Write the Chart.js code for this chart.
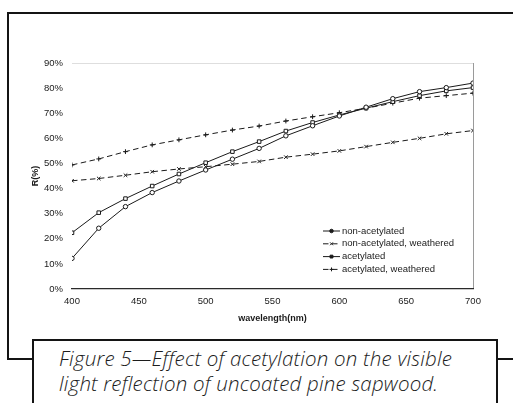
<!DOCTYPE html>
<html>
<head>
<meta charset="utf-8">
<script src="https://cdn.jsdelivr.net/npm/chart.js@4/dist/chart.umd.min.js"></script>
<style>
  html, body { margin: 0; padding: 0; background: #fff; }
  #page { position: relative; width: 513px; height: 403px; overflow: hidden; background: #fff; }
  #frame {
    position: absolute; left: 7px; top: 12px; width: 520px; height: 348px;
    box-sizing: border-box; border: 2px solid #141414; border-right: none;
  }
  #chart { position: absolute; left: 0; top: 0; }
  #caption {
    position: absolute; left: 32px; top: 339px; width: 466px; height: 90px;
    box-sizing: border-box; border: 2px solid #141414; background: #fff;
    font-family: "Open Sans", sans-serif; font-style: italic; font-weight: 300;
    font-size: 20.5px; line-height: 25px; color: #1c1c1c; padding: 5px 0 0 25px;
    letter-spacing: 0.2px;
  }
</style>
</head>
<body>
<div id="page">
  <div id="frame"></div>
  <canvas id="chart" width="513" height="403"></canvas>
  <div id="caption">Figure 5—Effect of acetylation on the visible<br>light reflection of uncoated pine sapwood.</div>
</div>
<script>
// Wavelengths (nm) and reflectance (%) for each treatment
const wavelengths = [400, 420, 440, 460, 480, 500, 520, 540, 560, 580, 600, 620, 640, 660, 680, 700];
const nonAcetylated = [12.2, 24.2, 32.8, 38.4, 43.0, 47.4, 51.7, 56.0, 61.0, 65.0, 68.9, 72.4, 75.8, 78.6, 80.2, 82.0];
const nonAcetylatedWeathered = [43.1, 44.0, 45.3, 46.7, 47.8, 48.7, 49.7, 50.8, 52.5, 53.7, 55.0, 56.7, 58.4, 60.0, 61.8, 63.1];
const acetylated = [22.4, 30.4, 36.0, 41.0, 45.8, 50.3, 54.7, 58.7, 62.9, 66.3, 69.3, 72.0, 74.6, 77.0, 78.9, 80.2];
const acetylatedWeathered = [49.4, 51.8, 54.7, 57.4, 59.4, 61.4, 63.3, 64.9, 66.9, 68.6, 70.2, 72.0, 74.0, 76.0, 77.0, 78.0];
const xTicks = [400, 450, 500, 550, 600, 650, 700];
const seriesNames = ['non-acetylated', 'non-acetylated, weathered', 'acetylated', 'acetylated, weathered'];

const ink = '#1a1a1a';
const dash = [5.5, 3.5];

function pts(values) {
  return wavelengths.map((w, i) => ({ x: w, y: values[i] }));
}

const datasets = [
  { label: seriesNames[0], data: pts(nonAcetylated), borderDash: [], pointStyle: 'circle', pointRadius: 2.2 },
  { label: seriesNames[1], data: pts(nonAcetylatedWeathered), borderDash: dash, pointStyle: 'crossRot', pointRadius: 2.5 },
  { label: seriesNames[2], data: pts(acetylated), borderDash: [], pointStyle: 'rect', pointRadius: 2.5 },
  { label: seriesNames[3], data: pts(acetylatedWeathered), borderDash: dash, pointStyle: 'cross', pointRadius: 2.4 }
].map(d => Object.assign({
  borderColor: ink, borderWidth: 1, backgroundColor: '#fff',
  pointBorderColor: ink, pointBackgroundColor: '#fff', pointBorderWidth: 1,
  tension: 0, fill: false
}, d));

// Small in-plot legend with line samples and markers
const legendBox = {
  id: 'legendBox',
  afterDraw(chart) {
    const ctx = chart.ctx;
    const x0 = 323, x1 = 340, tx = 342, y0 = 231, step = 12.8;
    ctx.save();
    ctx.font = '9.5px "Liberation Sans", Arial, sans-serif';
    ctx.textBaseline = 'middle';
    chart.data.datasets.forEach((ds, i) => {
      const y = y0 + i * step;
      ctx.strokeStyle = ink;
      ctx.lineWidth = 1;
      ctx.setLineDash(ds.borderDash);
      ctx.beginPath();
      ctx.moveTo(x0, y); ctx.lineTo(x1, y);
      ctx.stroke();
      ctx.setLineDash([]);
      ctx.fillStyle = ink;
      Chart.helpers.drawPoint(ctx, {
        pointStyle: ds.pointStyle, radius: ds.pointRadius * 0.8, borderWidth: 1, rotation: 0
      }, (x0 + x1) / 2, y);
      ctx.fillStyle = ink;
      ctx.fillText(ds.label, tx, y);
    });
    ctx.restore();
  }
};

new Chart(document.getElementById('chart'), {
  type: 'line',
  data: { datasets },
  plugins: [legendBox],
  options: {
    responsive: false,
    animation: false,
    devicePixelRatio: 1,
    layout: { padding: { left: 28, top: 63, right: 40, bottom: 78.6 } },
    plugins: { legend: { display: false }, tooltip: { enabled: false } },
    scales: {
      x: {
        type: 'linear', min: 400, max: 700,
        afterBuildTicks(scale) { scale.ticks = xTicks.map(v => ({ value: v })); },
        afterFit(scale) { scale.height = 35.4; },
        ticks: {
          padding: 7, color: ink, maxRotation: 0, autoSkip: false,
          font: { family: '"Liberation Sans", Arial, sans-serif', size: 9.5 }
        },
        grid: {
          drawTicks: false,
          color: c => (c.tick && c.tick.value === 700) ? '#9a9a9a' : 'rgba(0,0,0,0)'
        },
        border: { display: true, color: '#2a2a2a', width: 1.3 },
        title: {
          display: true, text: 'wavelength(nm)', color: ink, padding: 0,
          font: { family: '"Liberation Sans", Arial, sans-serif', size: 9, weight: 'bold' }
        }
      },
      y: {
        min: 0, max: 90,
        afterFit(scale) { scale.width = 44; },
        ticks: {
          stepSize: 10, padding: 9, color: ink,
          callback: v => v + '%',
          font: { family: '"Liberation Sans", Arial, sans-serif', size: 9.5 }
        },
        grid: {
          drawTicks: false,
          color: c => (c.tick && c.tick.value === 90) ? '#dedede' : 'rgba(0,0,0,0)'
        },
        border: { display: false },
        title: {
          display: true, text: 'R(%)', color: ink, padding: { top: 2, bottom: 0 },
          font: { family: '"Liberation Sans", Arial, sans-serif', size: 9, weight: 'bold' }
        }
      }
    }
  }
});
</script>
</body>
</html>
